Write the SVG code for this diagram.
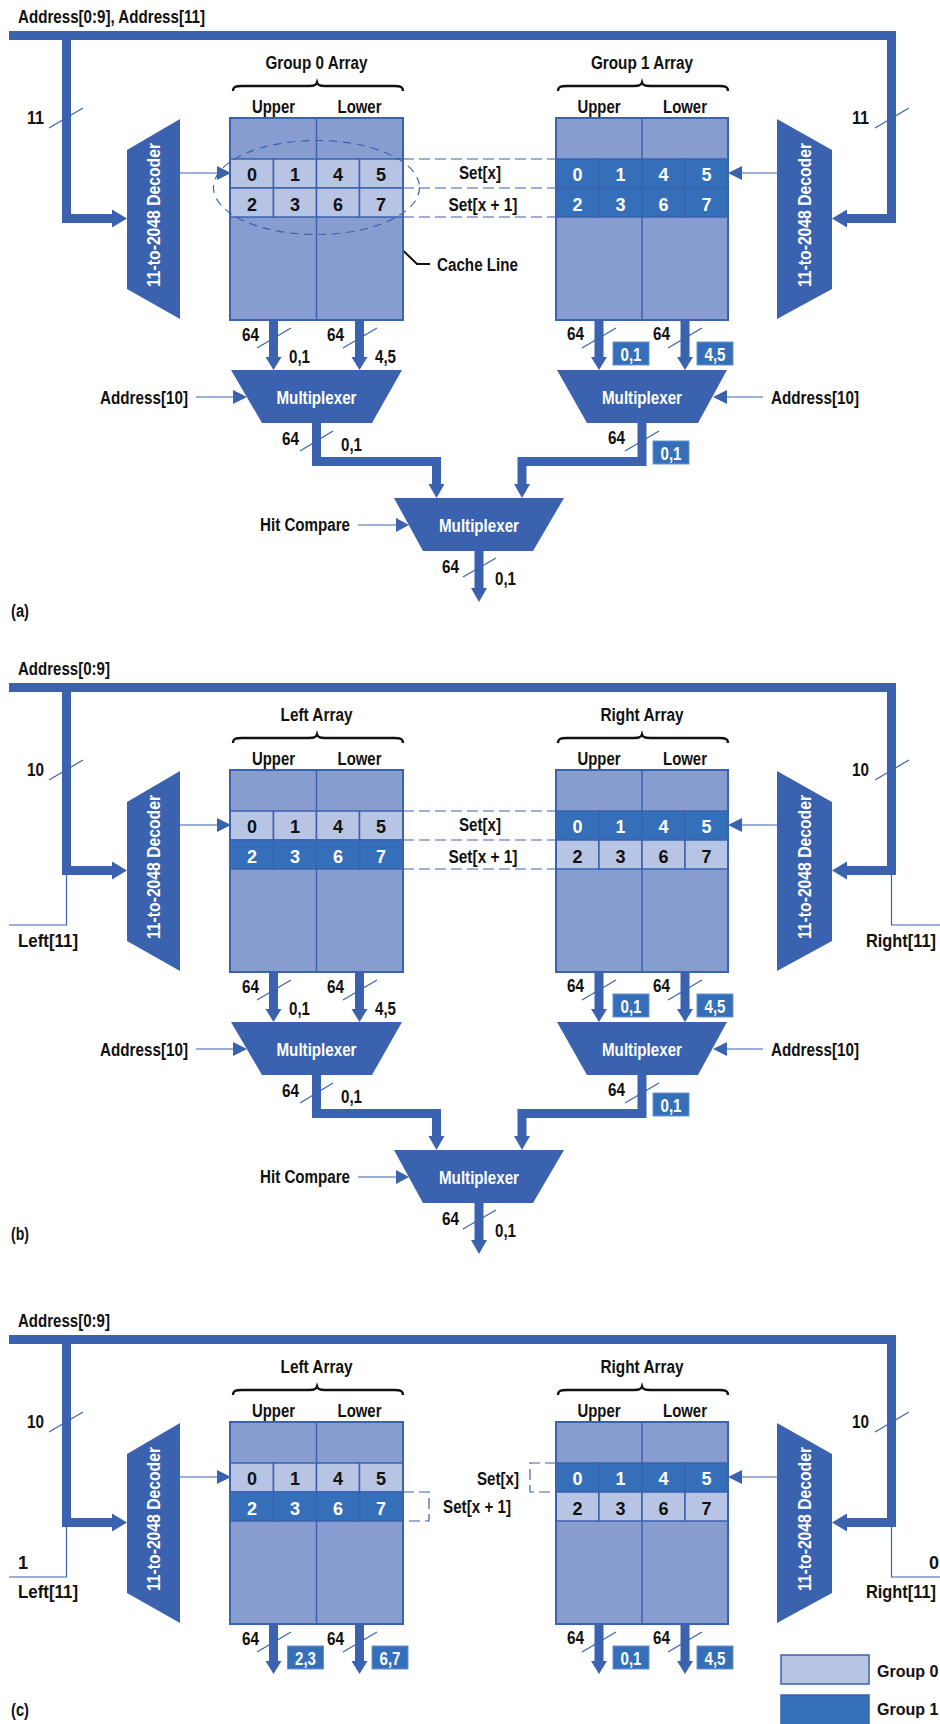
<svg xmlns="http://www.w3.org/2000/svg" width="940" height="1724" viewBox="0 0 940 1724">
<defs>
<style>
.t{font-family:"Liberation Sans Narrow","Liberation Sans",Arial,sans-serif;font-weight:bold;font-size:18px;fill:#111}
.w{fill:#fff}
.m{text-anchor:middle}
.e{text-anchor:end}
.dec{font-size:19px}
.leg{font-size:16px}
.bus{fill:none;stroke:#3a62ae;stroke-width:9;stroke-linejoin:miter;stroke-linecap:butt}
.thin{fill:none;stroke:#3a62ae;stroke-width:1.2}
.dash{fill:none;stroke:#3a62ae;stroke-width:1.2;stroke-dasharray:11 5}
.fb{fill:#3a62ae}
.arr{fill:#889dcf;stroke:#3a62ae;stroke-width:2}
.frame{fill:none;stroke:#3a62ae;stroke-width:2}
.div{stroke:#3a62ae;stroke-width:1.5}
.g0{fill:#b8c4e4;stroke:#3a62ae;stroke-width:1.5}
.g1{fill:#366fb9;stroke:#3a62ae;stroke-width:1.5}
.box{fill:#366fb9;stroke:#6a92cf;stroke-width:1}
.brace{fill:none;stroke:#111;stroke-width:2.5}
</style>
</defs>
<rect width="940" height="1724" fill="#fff"/>

<!-- ===================== (a) ===================== -->
<g id="panel-a">
 <g id="a-connectors">
  <path class="bus" d="M9,35.5 H891.5 V218.5 H845"/>
  <path class="bus" d="M66.5,35.5 V218.5 H113"/>
  <polygon class="fb" points="112,209.5 127,218.5 112,227.5"/>
  <polygon class="fb" points="847,209.5 832,218.5 847,227.5"/>
  <line class="thin" x1="49" y1="128" x2="83" y2="108"/>
  <line class="thin" x1="875" y1="128" x2="909" y2="108"/>
  <line class="thin" x1="180" y1="173" x2="218" y2="173"/>
  <polygon class="fb" points="217,166 231,173 217,180"/>
  <line class="thin" x1="777" y1="173" x2="741" y2="173"/>
  <polygon class="fb" points="742,166 728,173 742,180"/>
  <path class="dash" d="M403,159 H556 M403,188 H556 M403,217 H556"/>
  <path class="bus" d="M273.5,321 V358 M359.5,321 V358 M599,321 V358 M685,321 V358"/>
  <polygon class="fb" points="265.5,357 281.5,357 273.5,370"/>
  <polygon class="fb" points="351.5,357 367.5,357 359.5,370"/>
  <polygon class="fb" points="591,357 607,357 599,370"/>
  <polygon class="fb" points="677,357 693,357 685,370"/>
  <line class="thin" x1="257" y1="348" x2="291" y2="328"/>
  <line class="thin" x1="343" y1="348" x2="377" y2="328"/>
  <line class="thin" x1="582" y1="348" x2="616" y2="328"/>
  <line class="thin" x1="668" y1="348" x2="702" y2="328"/>
  <line class="thin" x1="196" y1="397" x2="234" y2="397"/>
  <polygon class="fb" points="233,390 247,397 233,404"/>
  <line class="thin" x1="763" y1="397" x2="726" y2="397"/>
  <polygon class="fb" points="727,390 713,397 727,404"/>
  <path class="bus" d="M316.5,423 V461.5 H436.5 V485"/>
  <polygon class="fb" points="428.5,484 444.5,484 436.5,498"/>
  <path class="bus" d="M642,423 V461.5 H522 V485"/>
  <polygon class="fb" points="514,484 530,484 522,498"/>
  <line class="thin" x1="300" y1="451" x2="333" y2="431"/>
  <line class="thin" x1="625" y1="451" x2="659" y2="431"/>
  <line class="thin" x1="358" y1="525" x2="397" y2="525"/>
  <polygon class="fb" points="396,518 409,525 396,532"/>
  <path class="bus" d="M479,551 V589"/>
  <polygon class="fb" points="471,588 487,588 479,602"/>
  <line class="thin" x1="463" y1="577" x2="496" y2="558"/>
  <polyline points="430,264 417,264 388,236" fill="none" stroke="#111" stroke-width="2"/>
  <polygon points="379,228 384.3,239.9 391.1,232.7" fill="#111"/>
  <text class="t" x="18" y="22.5" textLength="187" lengthAdjust="spacingAndGlyphs">Address[0:9], Address[11]</text>
  <text class="t" x="27" y="124" textLength="17" lengthAdjust="spacingAndGlyphs">11</text>
  <text class="t" x="852" y="124" textLength="17" lengthAdjust="spacingAndGlyphs">11</text>
  <text class="t m" x="480" y="179" textLength="42" lengthAdjust="spacingAndGlyphs">Set[x]</text>
  <text class="t m" x="483" y="211" textLength="69" lengthAdjust="spacingAndGlyphs">Set[x + 1]</text>
  <text class="t" x="437" y="271" textLength="81" lengthAdjust="spacingAndGlyphs">Cache Line</text>
  <text class="t" x="242" y="341" textLength="17" lengthAdjust="spacingAndGlyphs">64</text>
  <text class="t" x="327" y="341" textLength="17" lengthAdjust="spacingAndGlyphs">64</text>
  <text class="t" x="567" y="340" textLength="17" lengthAdjust="spacingAndGlyphs">64</text>
  <text class="t" x="653" y="340" textLength="17" lengthAdjust="spacingAndGlyphs">64</text>
  <text class="t" x="289" y="363" textLength="21" lengthAdjust="spacingAndGlyphs">0,1</text>
  <text class="t" x="375" y="363" textLength="21" lengthAdjust="spacingAndGlyphs">4,5</text>
  <rect class="box" x="613" y="342" width="36" height="23"/>
  <text class="t w m" x="631" y="361" textLength="21" lengthAdjust="spacingAndGlyphs">0,1</text>
  <rect class="box" x="697" y="342" width="36" height="23"/>
  <text class="t w m" x="715" y="361" textLength="21" lengthAdjust="spacingAndGlyphs">4,5</text>
  <text class="t e" x="188" y="404" textLength="88" lengthAdjust="spacingAndGlyphs">Address[10]</text>
  <text class="t" x="771" y="404" textLength="88" lengthAdjust="spacingAndGlyphs">Address[10]</text>
  <text class="t" x="282" y="445" textLength="17" lengthAdjust="spacingAndGlyphs">64</text>
  <text class="t" x="341" y="451" textLength="21" lengthAdjust="spacingAndGlyphs">0,1</text>
  <text class="t" x="608" y="444" textLength="17" lengthAdjust="spacingAndGlyphs">64</text>
  <rect class="box" x="653" y="441" width="36" height="23"/>
  <text class="t w m" x="671" y="460" textLength="21" lengthAdjust="spacingAndGlyphs">0,1</text>
  <text class="t e" x="350" y="531" textLength="90" lengthAdjust="spacingAndGlyphs">Hit Compare</text>
  <text class="t" x="442" y="573" textLength="17" lengthAdjust="spacingAndGlyphs">64</text>
  <text class="t" x="495" y="585" textLength="21" lengthAdjust="spacingAndGlyphs">0,1</text>
  <text class="t" x="11" y="617" textLength="18" lengthAdjust="spacingAndGlyphs">(a)</text>
 </g>
 <g id="a-decoder-left">
  <polygon class="fb" points="127,150 180,119 180,319 127,289"/>
  <text class="t w m dec" transform="translate(160,215) rotate(-90)" textLength="144" lengthAdjust="spacingAndGlyphs">11-to-2048 Decoder</text>
 </g>
 <g id="a-decoder-right">
  <polygon class="fb" points="777,119 832,150 832,289 777,319"/>
  <text class="t w m dec" transform="translate(811,215) rotate(-90)" textLength="144" lengthAdjust="spacingAndGlyphs">11-to-2048 Decoder</text>
 </g>
 <g id="a-group0-array">
  <text class="t m" x="316.5" y="69" textLength="102" lengthAdjust="spacingAndGlyphs">Group 0 Array</text>
  <path class="brace" d="M233,91 C233,87 235,86 242,86 L306,86 C313,86 316,86 317,82.5 C318,86 321,86 328,86 L394,86 C401,86 403,87 403,91"/>
  <text class="t m" x="273.5" y="113" textLength="43" lengthAdjust="spacingAndGlyphs">Upper</text>
  <text class="t m" x="359.5" y="113" textLength="44" lengthAdjust="spacingAndGlyphs">Lower</text>
  <rect class="arr" x="230" y="118" width="173" height="202"/>
  <line class="div" x1="316.5" y1="118" x2="316.5" y2="320"/>
  <rect class="g0" x="230" y="159" width="43.5" height="29"/>
  <rect class="g0" x="273.5" y="159" width="43" height="29"/>
  <rect class="g0" x="316.5" y="159" width="43" height="29"/>
  <rect class="g0" x="359.5" y="159" width="43.5" height="29"/>
  <rect class="g0" x="230" y="188" width="43.5" height="29"/>
  <rect class="g0" x="273.5" y="188" width="43" height="29"/>
  <rect class="g0" x="316.5" y="188" width="43" height="29"/>
  <rect class="g0" x="359.5" y="188" width="43.5" height="29"/>
  <rect class="frame" x="230" y="118" width="173" height="202"/>
  <text class="t m" x="252" y="181">0</text><text class="t m" x="295" y="181">1</text>
  <text class="t m" x="338" y="181">4</text><text class="t m" x="381" y="181">5</text>
  <text class="t m" x="252" y="211">2</text><text class="t m" x="295" y="211">3</text>
  <text class="t m" x="338" y="211">6</text><text class="t m" x="381" y="211">7</text>
  <ellipse cx="316.5" cy="187.5" rx="103" ry="47" fill="none" stroke="#3a62ae" stroke-width="1.2" stroke-dasharray="8 6"/>
 </g>
 <g id="a-group1-array">
  <text class="t m" x="642" y="69" textLength="102" lengthAdjust="spacingAndGlyphs">Group 1 Array</text>
  <path class="brace" d="M558,91 C558,87 560,86 567,86 L631,86 C638,86 641,86 642,82.5 C643,86 646,86 653,86 L719,86 C726,86 728,87 728,91"/>
  <text class="t m" x="599" y="113" textLength="43" lengthAdjust="spacingAndGlyphs">Upper</text>
  <text class="t m" x="685" y="113" textLength="44" lengthAdjust="spacingAndGlyphs">Lower</text>
  <rect class="arr" x="556" y="118" width="172" height="202"/>
  <line class="div" x1="642" y1="118" x2="642" y2="320"/>
  <rect class="g1" x="556" y="159" width="43" height="29"/>
  <rect class="g1" x="599" y="159" width="43" height="29"/>
  <rect class="g1" x="642" y="159" width="43" height="29"/>
  <rect class="g1" x="685" y="159" width="43" height="29"/>
  <rect class="g1" x="556" y="188" width="43" height="29"/>
  <rect class="g1" x="599" y="188" width="43" height="29"/>
  <rect class="g1" x="642" y="188" width="43" height="29"/>
  <rect class="g1" x="685" y="188" width="43" height="29"/>
  <rect class="frame" x="556" y="118" width="172" height="202"/>
  <text class="t w m" x="577.5" y="181">0</text><text class="t w m" x="620.5" y="181">1</text>
  <text class="t w m" x="663.5" y="181">4</text><text class="t w m" x="706.5" y="181">5</text>
  <text class="t w m" x="577.5" y="211">2</text><text class="t w m" x="620.5" y="211">3</text>
  <text class="t w m" x="663.5" y="211">6</text><text class="t w m" x="706.5" y="211">7</text>
 </g>
 <g id="a-mux-left">
  <polygon class="fb" points="231,370 402,370 372,423 262,423"/>
  <text class="t w m" x="316.5" y="404" textLength="80" lengthAdjust="spacingAndGlyphs">Multiplexer</text>
 </g>
 <g id="a-mux-right">
  <polygon class="fb" points="557,370 727,370 698,423 587,423"/>
  <text class="t w m" x="642" y="404" textLength="80" lengthAdjust="spacingAndGlyphs">Multiplexer</text>
 </g>
 <g id="a-mux-final">
  <polygon class="fb" points="394,498 564,498 533,551 423,551"/>
  <text class="t w m" x="479" y="532" textLength="80" lengthAdjust="spacingAndGlyphs">Multiplexer</text>
 </g>
</g>

<!-- ===================== (b) ===================== -->
<g id="panel-b" transform="translate(0,652)">
 <g id="b-connectors">
  <path class="bus" d="M9,35.5 H891.5 V218.5 H845"/>
  <path class="bus" d="M66.5,35.5 V218.5 H113"/>
  <polygon class="fb" points="112,209.5 127,218.5 112,227.5"/>
  <polygon class="fb" points="847,209.5 832,218.5 847,227.5"/>
  <path class="thin" d="M66.5,223 V273 H9"/>
  <path class="thin" d="M891.5,223 V273 H940"/>
  <line class="thin" x1="49" y1="128" x2="83" y2="108"/>
  <line class="thin" x1="875" y1="128" x2="909" y2="108"/>
  <line class="thin" x1="180" y1="173" x2="218" y2="173"/>
  <polygon class="fb" points="217,166 231,173 217,180"/>
  <line class="thin" x1="777" y1="173" x2="741" y2="173"/>
  <polygon class="fb" points="742,166 728,173 742,180"/>
  <path class="dash" d="M403,159 H556 M403,188 H556 M403,217 H556"/>
  <path class="bus" d="M273.5,321 V358 M359.5,321 V358 M599,321 V358 M685,321 V358"/>
  <polygon class="fb" points="265.5,357 281.5,357 273.5,370"/>
  <polygon class="fb" points="351.5,357 367.5,357 359.5,370"/>
  <polygon class="fb" points="591,357 607,357 599,370"/>
  <polygon class="fb" points="677,357 693,357 685,370"/>
  <line class="thin" x1="257" y1="348" x2="291" y2="328"/>
  <line class="thin" x1="343" y1="348" x2="377" y2="328"/>
  <line class="thin" x1="582" y1="348" x2="616" y2="328"/>
  <line class="thin" x1="668" y1="348" x2="702" y2="328"/>
  <line class="thin" x1="196" y1="397" x2="234" y2="397"/>
  <polygon class="fb" points="233,390 247,397 233,404"/>
  <line class="thin" x1="763" y1="397" x2="726" y2="397"/>
  <polygon class="fb" points="727,390 713,397 727,404"/>
  <path class="bus" d="M316.5,423 V461.5 H436.5 V485"/>
  <polygon class="fb" points="428.5,484 444.5,484 436.5,498"/>
  <path class="bus" d="M642,423 V461.5 H522 V485"/>
  <polygon class="fb" points="514,484 530,484 522,498"/>
  <line class="thin" x1="300" y1="451" x2="333" y2="431"/>
  <line class="thin" x1="625" y1="451" x2="659" y2="431"/>
  <line class="thin" x1="358" y1="525" x2="397" y2="525"/>
  <polygon class="fb" points="396,518 409,525 396,532"/>
  <path class="bus" d="M479,551 V589"/>
  <polygon class="fb" points="471,588 487,588 479,602"/>
  <line class="thin" x1="463" y1="577" x2="496" y2="558"/>
  <text class="t" x="18" y="22.5" textLength="92" lengthAdjust="spacingAndGlyphs">Address[0:9]</text>
  <text class="t" x="27" y="124" textLength="17" lengthAdjust="spacingAndGlyphs">10</text>
  <text class="t" x="852" y="124" textLength="17" lengthAdjust="spacingAndGlyphs">10</text>
  <text class="t" x="18" y="295" textLength="60" lengthAdjust="spacingAndGlyphs">Left[11]</text>
  <text class="t" x="866" y="295" textLength="70" lengthAdjust="spacingAndGlyphs">Right[11]</text>
  <text class="t m" x="480" y="179" textLength="42" lengthAdjust="spacingAndGlyphs">Set[x]</text>
  <text class="t m" x="483" y="211" textLength="69" lengthAdjust="spacingAndGlyphs">Set[x + 1]</text>
  <text class="t" x="242" y="341" textLength="17" lengthAdjust="spacingAndGlyphs">64</text>
  <text class="t" x="327" y="341" textLength="17" lengthAdjust="spacingAndGlyphs">64</text>
  <text class="t" x="567" y="340" textLength="17" lengthAdjust="spacingAndGlyphs">64</text>
  <text class="t" x="653" y="340" textLength="17" lengthAdjust="spacingAndGlyphs">64</text>
  <text class="t" x="289" y="363" textLength="21" lengthAdjust="spacingAndGlyphs">0,1</text>
  <text class="t" x="375" y="363" textLength="21" lengthAdjust="spacingAndGlyphs">4,5</text>
  <rect class="box" x="613" y="342" width="36" height="23"/>
  <text class="t w m" x="631" y="361" textLength="21" lengthAdjust="spacingAndGlyphs">0,1</text>
  <rect class="box" x="697" y="342" width="36" height="23"/>
  <text class="t w m" x="715" y="361" textLength="21" lengthAdjust="spacingAndGlyphs">4,5</text>
  <text class="t e" x="188" y="404" textLength="88" lengthAdjust="spacingAndGlyphs">Address[10]</text>
  <text class="t" x="771" y="404" textLength="88" lengthAdjust="spacingAndGlyphs">Address[10]</text>
  <text class="t" x="282" y="445" textLength="17" lengthAdjust="spacingAndGlyphs">64</text>
  <text class="t" x="341" y="451" textLength="21" lengthAdjust="spacingAndGlyphs">0,1</text>
  <text class="t" x="608" y="444" textLength="17" lengthAdjust="spacingAndGlyphs">64</text>
  <rect class="box" x="653" y="441" width="36" height="23"/>
  <text class="t w m" x="671" y="460" textLength="21" lengthAdjust="spacingAndGlyphs">0,1</text>
  <text class="t e" x="350" y="531" textLength="90" lengthAdjust="spacingAndGlyphs">Hit Compare</text>
  <text class="t" x="442" y="573" textLength="17" lengthAdjust="spacingAndGlyphs">64</text>
  <text class="t" x="495" y="585" textLength="21" lengthAdjust="spacingAndGlyphs">0,1</text>
  <text class="t" x="11" y="588" textLength="18" lengthAdjust="spacingAndGlyphs">(b)</text>
 </g>
 <g id="b-decoder-left">
  <polygon class="fb" points="127,150 180,119 180,319 127,289"/>
  <text class="t w m dec" transform="translate(160,215) rotate(-90)" textLength="144" lengthAdjust="spacingAndGlyphs">11-to-2048 Decoder</text>
 </g>
 <g id="b-decoder-right">
  <polygon class="fb" points="777,119 832,150 832,289 777,319"/>
  <text class="t w m dec" transform="translate(811,215) rotate(-90)" textLength="144" lengthAdjust="spacingAndGlyphs">11-to-2048 Decoder</text>
 </g>
 <g id="b-left-array">
  <text class="t m" x="316.5" y="69" textLength="72" lengthAdjust="spacingAndGlyphs">Left Array</text>
  <path class="brace" d="M233,91 C233,87 235,86 242,86 L306,86 C313,86 316,86 317,82.5 C318,86 321,86 328,86 L394,86 C401,86 403,87 403,91"/>
  <text class="t m" x="273.5" y="113" textLength="43" lengthAdjust="spacingAndGlyphs">Upper</text>
  <text class="t m" x="359.5" y="113" textLength="44" lengthAdjust="spacingAndGlyphs">Lower</text>
  <rect class="arr" x="230" y="118" width="173" height="202"/>
  <line class="div" x1="316.5" y1="118" x2="316.5" y2="320"/>
  <rect class="g0" x="230" y="159" width="43.5" height="29"/>
  <rect class="g0" x="273.5" y="159" width="43" height="29"/>
  <rect class="g0" x="316.5" y="159" width="43" height="29"/>
  <rect class="g0" x="359.5" y="159" width="43.5" height="29"/>
  <rect class="g1" x="230" y="188" width="43.5" height="29"/>
  <rect class="g1" x="273.5" y="188" width="43" height="29"/>
  <rect class="g1" x="316.5" y="188" width="43" height="29"/>
  <rect class="g1" x="359.5" y="188" width="43.5" height="29"/>
  <rect class="frame" x="230" y="118" width="173" height="202"/>
  <text class="t m" x="252" y="181">0</text><text class="t m" x="295" y="181">1</text>
  <text class="t m" x="338" y="181">4</text><text class="t m" x="381" y="181">5</text>
  <text class="t w m" x="252" y="211">2</text><text class="t w m" x="295" y="211">3</text>
  <text class="t w m" x="338" y="211">6</text><text class="t w m" x="381" y="211">7</text>
 </g>
 <g id="b-right-array">
  <text class="t m" x="642" y="69" textLength="83" lengthAdjust="spacingAndGlyphs">Right Array</text>
  <path class="brace" d="M558,91 C558,87 560,86 567,86 L631,86 C638,86 641,86 642,82.5 C643,86 646,86 653,86 L719,86 C726,86 728,87 728,91"/>
  <text class="t m" x="599" y="113" textLength="43" lengthAdjust="spacingAndGlyphs">Upper</text>
  <text class="t m" x="685" y="113" textLength="44" lengthAdjust="spacingAndGlyphs">Lower</text>
  <rect class="arr" x="556" y="118" width="172" height="202"/>
  <line class="div" x1="642" y1="118" x2="642" y2="320"/>
  <rect class="g1" x="556" y="159" width="43" height="29"/>
  <rect class="g1" x="599" y="159" width="43" height="29"/>
  <rect class="g1" x="642" y="159" width="43" height="29"/>
  <rect class="g1" x="685" y="159" width="43" height="29"/>
  <rect class="g0" x="556" y="188" width="43" height="29"/>
  <rect class="g0" x="599" y="188" width="43" height="29"/>
  <rect class="g0" x="642" y="188" width="43" height="29"/>
  <rect class="g0" x="685" y="188" width="43" height="29"/>
  <rect class="frame" x="556" y="118" width="172" height="202"/>
  <text class="t w m" x="577.5" y="181">0</text><text class="t w m" x="620.5" y="181">1</text>
  <text class="t w m" x="663.5" y="181">4</text><text class="t w m" x="706.5" y="181">5</text>
  <text class="t m" x="577.5" y="211">2</text><text class="t m" x="620.5" y="211">3</text>
  <text class="t m" x="663.5" y="211">6</text><text class="t m" x="706.5" y="211">7</text>
 </g>
 <g id="b-mux-left">
  <polygon class="fb" points="231,370 402,370 372,423 262,423"/>
  <text class="t w m" x="316.5" y="404" textLength="80" lengthAdjust="spacingAndGlyphs">Multiplexer</text>
 </g>
 <g id="b-mux-right">
  <polygon class="fb" points="557,370 727,370 698,423 587,423"/>
  <text class="t w m" x="642" y="404" textLength="80" lengthAdjust="spacingAndGlyphs">Multiplexer</text>
 </g>
 <g id="b-mux-final">
  <polygon class="fb" points="394,498 564,498 533,551 423,551"/>
  <text class="t w m" x="479" y="532" textLength="80" lengthAdjust="spacingAndGlyphs">Multiplexer</text>
 </g>
</g>

<!-- ===================== (c) ===================== -->
<g id="panel-c" transform="translate(0,1304)">
 <g id="c-connectors">
  <path class="bus" d="M9,35.5 H891.5 V218.5 H845"/>
  <path class="bus" d="M66.5,35.5 V218.5 H113"/>
  <polygon class="fb" points="112,209.5 127,218.5 112,227.5"/>
  <polygon class="fb" points="847,209.5 832,218.5 847,227.5"/>
  <path class="thin" d="M66.5,223 V273 H9"/>
  <path class="thin" d="M891.5,223 V273 H940"/>
  <line class="thin" x1="49" y1="128" x2="83" y2="108"/>
  <line class="thin" x1="875" y1="128" x2="909" y2="108"/>
  <line class="thin" x1="180" y1="173" x2="218" y2="173"/>
  <polygon class="fb" points="217,166 231,173 217,180"/>
  <line class="thin" x1="777" y1="173" x2="741" y2="173"/>
  <polygon class="fb" points="742,166 728,173 742,180"/>
  <path class="dash" d="M403,188 H429 V217 H403"/>
  <path class="dash" d="M556,159 H530 V188 H556"/>
  <path class="bus" d="M273.5,321 V358 M359.5,321 V358 M599,321 V358 M685,321 V358"/>
  <polygon class="fb" points="265.5,357 281.5,357 273.5,370"/>
  <polygon class="fb" points="351.5,357 367.5,357 359.5,370"/>
  <polygon class="fb" points="591,357 607,357 599,370"/>
  <polygon class="fb" points="677,357 693,357 685,370"/>
  <line class="thin" x1="257" y1="348" x2="291" y2="328"/>
  <line class="thin" x1="343" y1="348" x2="377" y2="328"/>
  <line class="thin" x1="582" y1="348" x2="616" y2="328"/>
  <line class="thin" x1="668" y1="348" x2="702" y2="328"/>
  <text class="t" x="18" y="22.5" textLength="92" lengthAdjust="spacingAndGlyphs">Address[0:9]</text>
  <text class="t" x="27" y="124" textLength="17" lengthAdjust="spacingAndGlyphs">10</text>
  <text class="t" x="852" y="124" textLength="17" lengthAdjust="spacingAndGlyphs">10</text>
  <text class="t" x="18" y="265">1</text>
  <text class="t" x="929" y="265">0</text>
  <text class="t" x="18" y="294" textLength="60" lengthAdjust="spacingAndGlyphs">Left[11]</text>
  <text class="t" x="866" y="294" textLength="70" lengthAdjust="spacingAndGlyphs">Right[11]</text>
  <text class="t e" x="519" y="181" textLength="42" lengthAdjust="spacingAndGlyphs">Set[x]</text>
  <text class="t" x="443" y="209" textLength="68" lengthAdjust="spacingAndGlyphs">Set[x + 1]</text>
  <text class="t" x="242" y="341" textLength="17" lengthAdjust="spacingAndGlyphs">64</text>
  <text class="t" x="327" y="341" textLength="17" lengthAdjust="spacingAndGlyphs">64</text>
  <text class="t" x="567" y="340" textLength="17" lengthAdjust="spacingAndGlyphs">64</text>
  <text class="t" x="653" y="340" textLength="17" lengthAdjust="spacingAndGlyphs">64</text>
  <rect class="box" x="287.5" y="342" width="36" height="23"/>
  <text class="t w m" x="305.5" y="361" textLength="21" lengthAdjust="spacingAndGlyphs">2,3</text>
  <rect class="box" x="372" y="342" width="36" height="23"/>
  <text class="t w m" x="390" y="361" textLength="21" lengthAdjust="spacingAndGlyphs">6,7</text>
  <rect class="box" x="613" y="342" width="36" height="23"/>
  <text class="t w m" x="631" y="361" textLength="21" lengthAdjust="spacingAndGlyphs">0,1</text>
  <rect class="box" x="697" y="342" width="36" height="23"/>
  <text class="t w m" x="715" y="361" textLength="21" lengthAdjust="spacingAndGlyphs">4,5</text>
  <text class="t" x="11" y="412" textLength="18" lengthAdjust="spacingAndGlyphs">(c)</text>
 </g>
 <g id="c-decoder-left">
  <polygon class="fb" points="127,150 180,119 180,319 127,289"/>
  <text class="t w m dec" transform="translate(160,215) rotate(-90)" textLength="144" lengthAdjust="spacingAndGlyphs">11-to-2048 Decoder</text>
 </g>
 <g id="c-decoder-right">
  <polygon class="fb" points="777,119 832,150 832,289 777,319"/>
  <text class="t w m dec" transform="translate(811,215) rotate(-90)" textLength="144" lengthAdjust="spacingAndGlyphs">11-to-2048 Decoder</text>
 </g>
 <g id="c-left-array">
  <text class="t m" x="316.5" y="69" textLength="72" lengthAdjust="spacingAndGlyphs">Left Array</text>
  <path class="brace" d="M233,91 C233,87 235,86 242,86 L306,86 C313,86 316,86 317,82.5 C318,86 321,86 328,86 L394,86 C401,86 403,87 403,91"/>
  <text class="t m" x="273.5" y="113" textLength="43" lengthAdjust="spacingAndGlyphs">Upper</text>
  <text class="t m" x="359.5" y="113" textLength="44" lengthAdjust="spacingAndGlyphs">Lower</text>
  <rect class="arr" x="230" y="118" width="173" height="202"/>
  <line class="div" x1="316.5" y1="118" x2="316.5" y2="320"/>
  <rect class="g0" x="230" y="159" width="43.5" height="29"/>
  <rect class="g0" x="273.5" y="159" width="43" height="29"/>
  <rect class="g0" x="316.5" y="159" width="43" height="29"/>
  <rect class="g0" x="359.5" y="159" width="43.5" height="29"/>
  <rect class="g1" x="230" y="188" width="43.5" height="29"/>
  <rect class="g1" x="273.5" y="188" width="43" height="29"/>
  <rect class="g1" x="316.5" y="188" width="43" height="29"/>
  <rect class="g1" x="359.5" y="188" width="43.5" height="29"/>
  <rect class="frame" x="230" y="118" width="173" height="202"/>
  <text class="t m" x="252" y="181">0</text><text class="t m" x="295" y="181">1</text>
  <text class="t m" x="338" y="181">4</text><text class="t m" x="381" y="181">5</text>
  <text class="t w m" x="252" y="211">2</text><text class="t w m" x="295" y="211">3</text>
  <text class="t w m" x="338" y="211">6</text><text class="t w m" x="381" y="211">7</text>
 </g>
 <g id="c-right-array">
  <text class="t m" x="642" y="69" textLength="83" lengthAdjust="spacingAndGlyphs">Right Array</text>
  <path class="brace" d="M558,91 C558,87 560,86 567,86 L631,86 C638,86 641,86 642,82.5 C643,86 646,86 653,86 L719,86 C726,86 728,87 728,91"/>
  <text class="t m" x="599" y="113" textLength="43" lengthAdjust="spacingAndGlyphs">Upper</text>
  <text class="t m" x="685" y="113" textLength="44" lengthAdjust="spacingAndGlyphs">Lower</text>
  <rect class="arr" x="556" y="118" width="172" height="202"/>
  <line class="div" x1="642" y1="118" x2="642" y2="320"/>
  <rect class="g1" x="556" y="159" width="43" height="29"/>
  <rect class="g1" x="599" y="159" width="43" height="29"/>
  <rect class="g1" x="642" y="159" width="43" height="29"/>
  <rect class="g1" x="685" y="159" width="43" height="29"/>
  <rect class="g0" x="556" y="188" width="43" height="29"/>
  <rect class="g0" x="599" y="188" width="43" height="29"/>
  <rect class="g0" x="642" y="188" width="43" height="29"/>
  <rect class="g0" x="685" y="188" width="43" height="29"/>
  <rect class="frame" x="556" y="118" width="172" height="202"/>
  <text class="t w m" x="577.5" y="181">0</text><text class="t w m" x="620.5" y="181">1</text>
  <text class="t w m" x="663.5" y="181">4</text><text class="t w m" x="706.5" y="181">5</text>
  <text class="t m" x="577.5" y="211">2</text><text class="t m" x="620.5" y="211">3</text>
  <text class="t m" x="663.5" y="211">6</text><text class="t m" x="706.5" y="211">7</text>
 </g>
</g>

<!-- legend -->
<g id="legend">
 <rect class="g0" x="781" y="1655" width="88" height="29"/>
 <text class="t leg" x="877" y="1677">Group 0</text>
 <rect class="g1" x="781" y="1695" width="88" height="35"/>
 <text class="t leg" x="877" y="1715">Group 1</text>
</g>
</svg>
